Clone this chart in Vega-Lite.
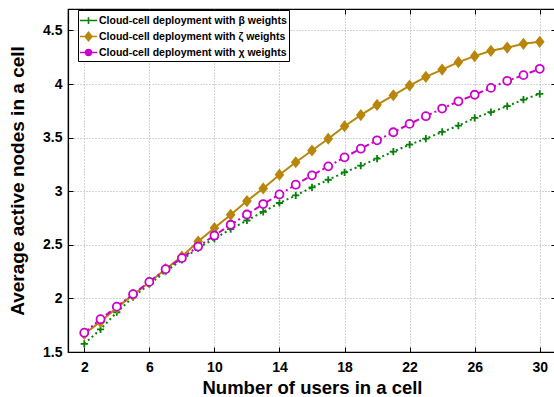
{
  "$schema": "https://vega.github.io/schema/vega-lite/v6.json",
  "width": 488,
  "height": 343,
  "autosize": {"type": "none"},
  "padding": {"left": 68, "top": 9, "right": 0, "bottom": 45},
  "background": "white",
  "config": {
    "view": {"stroke": "black", "strokeWidth": 1.2},
    "font": "Liberation Sans",
    "axis": {
      "labelFont": "Liberation Sans", "labelFontWeight": "bold", "labelFontSize": 14, "labelColor": "black",
      "titleFont": "Liberation Sans", "titleFontWeight": "bold", "titleColor": "black",
      "domainColor": "black", "domainWidth": 1.2, "tickColor": "black", "tickWidth": 1,
      "gridColor": "#a8a8a8", "gridDash": [1, 2], "gridWidth": 1
    }
  },
  "data": {"values": [
    {"x": 2, "s": "beta", "y": 1.575}, {"x": 3, "s": "beta", "y": 1.712}, {"x": 4, "s": "beta", "y": 1.871}, {"x": 5, "s": "beta", "y": 2.011}, {"x": 6, "s": "beta", "y": 2.133}, {"x": 7, "s": "beta", "y": 2.25}, {"x": 8, "s": "beta", "y": 2.36}, {"x": 9, "s": "beta", "y": 2.469}, {"x": 10, "s": "beta", "y": 2.556}, {"x": 11, "s": "beta", "y": 2.647}, {"x": 12, "s": "beta", "y": 2.727}, {"x": 13, "s": "beta", "y": 2.808}, {"x": 14, "s": "beta", "y": 2.89}, {"x": 15, "s": "beta", "y": 2.961}, {"x": 16, "s": "beta", "y": 3.036}, {"x": 17, "s": "beta", "y": 3.107}, {"x": 18, "s": "beta", "y": 3.176}, {"x": 19, "s": "beta", "y": 3.238}, {"x": 20, "s": "beta", "y": 3.304}, {"x": 21, "s": "beta", "y": 3.369}, {"x": 22, "s": "beta", "y": 3.435}, {"x": 23, "s": "beta", "y": 3.49}, {"x": 24, "s": "beta", "y": 3.553}, {"x": 25, "s": "beta", "y": 3.612}, {"x": 26, "s": "beta", "y": 3.684}, {"x": 27, "s": "beta", "y": 3.737}, {"x": 28, "s": "beta", "y": 3.793}, {"x": 29, "s": "beta", "y": 3.855}, {"x": 30, "s": "beta", "y": 3.908},
    {"x": 2, "s": "zeta", "y": 1.668}, {"x": 3, "s": "zeta", "y": 1.783}, {"x": 4, "s": "zeta", "y": 1.914}, {"x": 5, "s": "zeta", "y": 2.033}, {"x": 6, "s": "zeta", "y": 2.151}, {"x": 7, "s": "zeta", "y": 2.273}, {"x": 8, "s": "zeta", "y": 2.39}, {"x": 9, "s": "zeta", "y": 2.53}, {"x": 10, "s": "zeta", "y": 2.656}, {"x": 11, "s": "zeta", "y": 2.78}, {"x": 12, "s": "zeta", "y": 2.908}, {"x": 13, "s": "zeta", "y": 3.026}, {"x": 14, "s": "zeta", "y": 3.154}, {"x": 15, "s": "zeta", "y": 3.27}, {"x": 16, "s": "zeta", "y": 3.38}, {"x": 17, "s": "zeta", "y": 3.49}, {"x": 18, "s": "zeta", "y": 3.606}, {"x": 19, "s": "zeta", "y": 3.71}, {"x": 20, "s": "zeta", "y": 3.805}, {"x": 21, "s": "zeta", "y": 3.895}, {"x": 22, "s": "zeta", "y": 3.986}, {"x": 23, "s": "zeta", "y": 4.067}, {"x": 24, "s": "zeta", "y": 4.135}, {"x": 25, "s": "zeta", "y": 4.204}, {"x": 26, "s": "zeta", "y": 4.26}, {"x": 27, "s": "zeta", "y": 4.31}, {"x": 28, "s": "zeta", "y": 4.34}, {"x": 29, "s": "zeta", "y": 4.375}, {"x": 30, "s": "zeta", "y": 4.394},
    {"x": 2, "s": "chi", "y": 1.68}, {"x": 3, "s": "chi", "y": 1.806}, {"x": 4, "s": "chi", "y": 1.923}, {"x": 5, "s": "chi", "y": 2.04}, {"x": 6, "s": "chi", "y": 2.154}, {"x": 7, "s": "chi", "y": 2.273}, {"x": 8, "s": "chi", "y": 2.376}, {"x": 9, "s": "chi", "y": 2.484}, {"x": 10, "s": "chi", "y": 2.587}, {"x": 11, "s": "chi", "y": 2.687}, {"x": 12, "s": "chi", "y": 2.783}, {"x": 13, "s": "chi", "y": 2.88}, {"x": 14, "s": "chi", "y": 2.97}, {"x": 15, "s": "chi", "y": 3.061}, {"x": 16, "s": "chi", "y": 3.148}, {"x": 17, "s": "chi", "y": 3.232}, {"x": 18, "s": "chi", "y": 3.316}, {"x": 19, "s": "chi", "y": 3.397}, {"x": 20, "s": "chi", "y": 3.475}, {"x": 21, "s": "chi", "y": 3.55}, {"x": 22, "s": "chi", "y": 3.628}, {"x": 23, "s": "chi", "y": 3.7}, {"x": 24, "s": "chi", "y": 3.771}, {"x": 25, "s": "chi", "y": 3.839}, {"x": 26, "s": "chi", "y": 3.9}, {"x": 27, "s": "chi", "y": 3.964}, {"x": 28, "s": "chi", "y": 4.03}, {"x": 29, "s": "chi", "y": 4.083}, {"x": 30, "s": "chi", "y": 4.142}
  ]},
  "resolve": {"axis": {"x": "independent", "y": "independent"}},
  "layer": [
    {
      "transform": [{"filter": "datum.s === 'beta'"}],
      "mark": {"type": "line", "strokeWidth": 2, "color": "#0a800a", "strokeDash": [2, 3]},
      "encoding": {
        "x": {"field": "x", "type": "quantitative", "scale": {"domain": [1, 31], "nice": false, "zero": false},
              "axis": {"values": [2, 6, 10, 14, 18, 22, 26, 30], "title": "Number of users in a cell", "titleFontSize": 18.5, "tickSize": -5, "labelPadding": 13, "titlePadding": 4}},
        "y": {"field": "y", "type": "quantitative", "scale": {"domain": [1.5, 4.7], "nice": false, "zero": false},
              "axis": {"values": [1.5, 2, 2.5, 3, 3.5, 4, 4.5], "format": "~g", "title": "Average active nodes in a cell", "titleFontSize": 19, "tickSize": -5, "labelPadding": 11, "titlePadding": 15}}
      }
    },
    {
      "transform": [{"filter": "datum.s === 'zeta'"}],
      "mark": {"type": "line", "strokeWidth": 2, "color": "#b8860b"},
      "encoding": {"x": {"field": "x", "type": "quantitative", "axis": null}, "y": {"field": "y", "type": "quantitative", "axis": null}}
    },
    {
      "transform": [{"filter": "datum.s === 'chi'"}],
      "mark": {"type": "line", "strokeWidth": 2, "color": "#cc00cc", "strokeDash": [6, 3, 2, 3]},
      "encoding": {"x": {"field": "x", "type": "quantitative", "axis": null}, "y": {"field": "y", "type": "quantitative", "axis": null}}
    },
    {
      "transform": [{"filter": "datum.s === 'beta'"}],
      "mark": {"type": "point", "size": 64, "strokeWidth": 1.8, "opacity": 1, "stroke": "#0a800a", "fill": null, "shape": "M-0.9,0H0.9M0,-0.9V0.9"},
      "encoding": {"x": {"field": "x", "type": "quantitative", "axis": null}, "y": {"field": "y", "type": "quantitative", "axis": null}}
    },
    {
      "transform": [{"filter": "datum.s === 'zeta'"}],
      "mark": {"type": "point", "size": 64, "strokeWidth": 1.6, "opacity": 1, "stroke": "#b8860b", "fill": "#b8860b", "filled": true, "shape": "M0,-1.2L0.95,0L0,1.2L-0.95,0Z"},
      "encoding": {"x": {"field": "x", "type": "quantitative", "axis": null}, "y": {"field": "y", "type": "quantitative", "axis": null}}
    },
    {
      "transform": [{"filter": "datum.s === 'chi'"}],
      "mark": {"type": "point", "size": 64, "strokeWidth": 1.8, "opacity": 1, "stroke": "#cc00cc", "fill": "white", "filled": false, "shape": "circle"},
      "encoding": {"x": {"field": "x", "type": "quantitative", "axis": null}, "y": {"field": "y", "type": "quantitative", "axis": null}}
    },
    {
      "mark": {"type": "point", "opacity": 0, "strokeWidth": 1.6},
      "encoding": {
        "x": {"field": "x", "type": "quantitative", "axis": {"orient": "top", "values": [2, 6, 10, 14, 18, 22, 26, 30], "labels": false, "title": null, "grid": false, "tickSize": -5, "domain": false}},
        "y": {"field": "y", "type": "quantitative", "axis": {"orient": "right", "values": [1.5, 2, 2.5, 3, 3.5, 4, 4.5], "labels": false, "title": null, "grid": false, "tickSize": -5, "domain": false}},
        "stroke": {"field": "s", "type": "nominal", "scale": {"domain": ["beta", "zeta", "chi"], "range": ["#0a800a", "#b8860b", "#cc00cc"]}},
        "fill": {"field": "s", "type": "nominal", "scale": {"domain": ["beta", "zeta", "chi"], "range": ["transparent", "#b8860b", "#cc00cc"]}},
        "shape": {"field": "s", "type": "nominal",
          "scale": {"domain": ["beta", "zeta", "chi"], "range": [
            "M-1.15,0H1.15M-0.45,0H0.45M0,-0.45V0.45",
            "M-1.15,0H-0.45M0.45,0H1.15M0,-0.55L0.45,0L0,0.55L-0.45,0Z",
            "M-1.15,0H-0.38M0.38,0H1.15M0.38,0A0.38,0.38,0,1,1,-0.38,0A0.38,0.38,0,1,1,0.38,0Z"]},
          "legend": {
            "title": null, "orient": "none", "legendX": 10, "legendY": 1,
            "strokeColor": "black", "fillColor": "white", "padding": 2, "rowPadding": 0,
            "symbolSize": 225, "symbolOpacity": 1, "symbolStrokeWidth": 1.6, "labelOffset": 2,
            "labelFont": "Liberation Sans", "labelFontWeight": "bold", "labelFontSize": 10.5, "labelColor": "black", "labelLimit": 300,
            "labelExpr": "datum.value === 'beta' ? 'Cloud-cell deployment with β weights' : datum.value === 'zeta' ? 'Cloud-cell deployment with ζ weights' : 'Cloud-cell deployment with χ weights'"
          }
        }
      }
    }
  ]
}
